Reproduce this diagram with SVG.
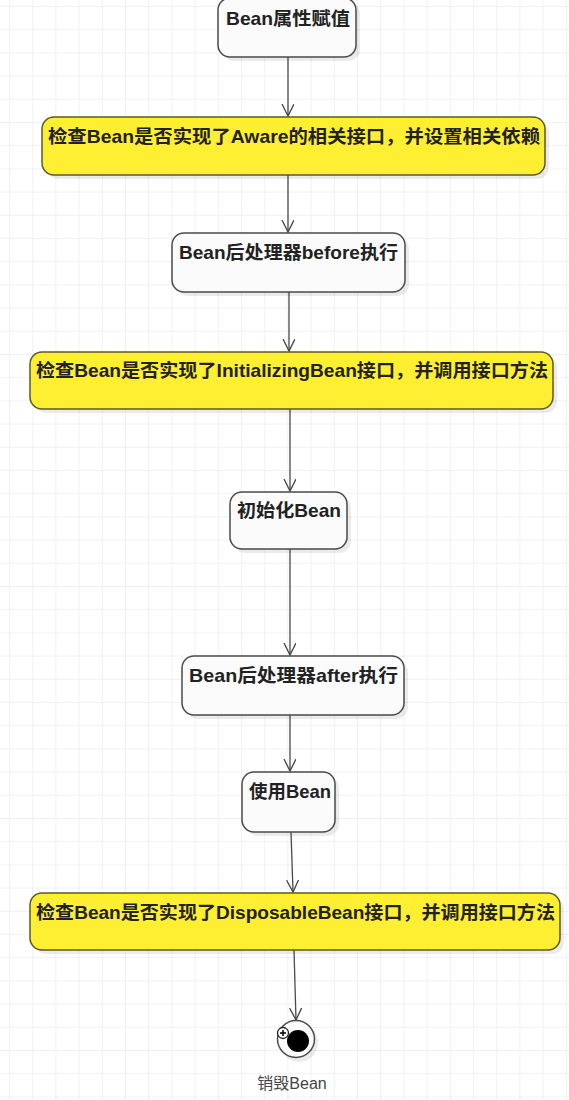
<svg xmlns="http://www.w3.org/2000/svg" width="569" height="1100" viewBox="0 0 569 1100">
<defs>
<pattern id="grid" x="9" y="6" width="23.2" height="23.2" patternUnits="userSpaceOnUse">
<path d="M0 0 H23.2 M0 0 V23.2" fill="none" stroke="#e4e4e4" stroke-width="1"/>
</pattern>
<marker id="arr" markerWidth="14" markerHeight="16" refX="12" refY="6" orient="auto" markerUnits="userSpaceOnUse">
<path d="M0 0 L12 6 L0 12" fill="none" stroke="#444" stroke-width="1.3"/>
</marker>
</defs>
<style>
.box{fill:#fbfbfb;stroke:#4a4a4a;stroke-width:1.5}
.ybox{fill:#ffef33;stroke:#5a5a2a;stroke-width:1.5}
.sh{fill:#000;opacity:0.08}
.t{font-family:"Liberation Sans","Noto Sans CJK SC",sans-serif;font-size:18.5px;font-weight:bold;fill:#222;text-anchor:middle}
.lbl{font-family:"Liberation Sans","Noto Sans CJK SC",sans-serif;font-size:16px;fill:#444;text-anchor:middle}
.c{stroke:#4a4a4a;stroke-width:1.3;fill:none;marker-end:url(#arr)}
</style>
<rect width="569" height="1100" fill="#fff"/>
<rect width="569" height="1100" fill="url(#grid)"/>
<g id="connectors">
<line class="c" x1="288" y1="57" x2="288" y2="116"/>
<line class="c" x1="288" y1="175" x2="288" y2="232"/>
<line class="c" x1="289" y1="292" x2="289" y2="351"/>
<line class="c" x1="290" y1="409" x2="290" y2="491"/>
<line class="c" x1="290" y1="549" x2="290" y2="655"/>
<line class="c" x1="290" y1="715" x2="290" y2="771"/>
<line class="c" x1="291" y1="832" x2="293" y2="892"/>
<line class="c" x1="294" y1="950" x2="296" y2="1020"/>
</g>
<g id="n1">
<rect class="sh" x="222" y="2" width="138" height="59" rx="12"/>
<rect class="box" x="218" y="-2" width="138" height="59" rx="12"/>
<text class="t" x="288" y="25" textLength="124" lengthAdjust="spacingAndGlyphs">Bean属性赋值</text>
</g>
<g id="n2">
<rect class="sh" x="46" y="121" width="503" height="58" rx="12"/>
<rect class="ybox" x="42" y="117" width="503" height="58" rx="12"/>
<text class="t" x="294" y="143" textLength="492" lengthAdjust="spacingAndGlyphs">检查Bean是否实现了Aware的相关接口，并设置相关依赖</text>
</g>
<g id="n3">
<rect class="sh" x="176" y="237" width="233" height="59" rx="12"/>
<rect class="box" x="172" y="233" width="233" height="59" rx="12"/>
<text class="t" x="288.5" y="259" textLength="219" lengthAdjust="spacingAndGlyphs">Bean后处理器before执行</text>
</g>
<g id="n4">
<rect class="sh" x="34" y="356" width="523" height="57" rx="12"/>
<rect class="ybox" x="30" y="352" width="523" height="57" rx="12"/>
<text class="t" x="292" y="377" textLength="512" lengthAdjust="spacingAndGlyphs">检查Bean是否实现了InitializingBean接口，并调用接口方法</text>
</g>
<g id="n5">
<rect class="sh" x="234" y="496" width="117" height="57" rx="12"/>
<rect class="box" x="230" y="492" width="117" height="57" rx="12"/>
<text class="t" x="289" y="517" textLength="104" lengthAdjust="spacingAndGlyphs">初始化Bean</text>
</g>
<g id="n6">
<rect class="sh" x="186" y="660" width="222" height="59" rx="12"/>
<rect class="box" x="182" y="656" width="222" height="59" rx="12"/>
<text class="t" x="293.5" y="682" textLength="209" lengthAdjust="spacingAndGlyphs">Bean后处理器after执行</text>
</g>
<g id="n7">
<rect class="sh" x="246" y="776" width="93" height="60" rx="12"/>
<rect class="box" x="242" y="772" width="93" height="60" rx="12"/>
<text class="t" x="290" y="798" textLength="82" lengthAdjust="spacingAndGlyphs">使用Bean</text>
</g>
<g id="n8">
<rect class="sh" x="34" y="897" width="530" height="57" rx="12"/>
<rect class="ybox" x="30" y="893" width="530" height="57" rx="12"/>
<text class="t" x="295.5" y="919" textLength="519" lengthAdjust="spacingAndGlyphs">检查Bean是否实现了DisposableBean接口，并调用接口方法</text>
</g>
<g id="end">
<circle cx="299" cy="1043" r="19" fill="#000" opacity="0.08"/>
<circle cx="296" cy="1039" r="18.5" fill="#fbfbfb" stroke="#4a4a4a" stroke-width="1.5"/>
<circle cx="298" cy="1041" r="11" fill="#000"/>
<circle cx="283" cy="1033" r="5.5" fill="#fff" stroke="#222" stroke-width="1.3"/>
<path d="M280 1033 H286 M283 1030 V1036" stroke="#000" stroke-width="1.5"/>
<text class="lbl" x="292" y="1089">销毁Bean</text>
</g>
</svg>
